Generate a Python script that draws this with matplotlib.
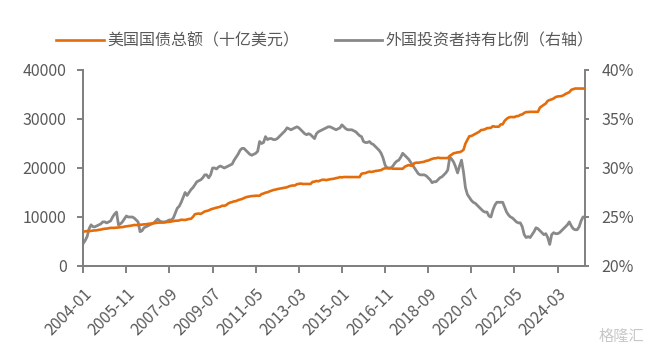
import matplotlib

matplotlib.use("Agg")
import matplotlib.pyplot as plt
from matplotlib.ticker import FuncFormatter, MultipleLocator
import pandas as pd

plt.rcParams["font.family"] = ["Noto Sans CJK SC", "DejaVu Sans"]

# 月度数据：2004-01 至 2025-05
months = pd.date_range("2004-01-01", periods=257, freq="MS")

# 美国国债总额（十亿美元）
debt = [
    7000, 7060, 7130, 7140, 7160, 7230, 7260, 7290, 7380, 7430, 7530, 7600,
    7630, 7700, 7780, 7770, 7780, 7840, 7850, 7920, 7930, 8030, 8090, 8170,
    8200, 8270, 8370, 8350, 8360, 8420, 8440, 8500, 8510, 8590, 8630, 8680,
    8710, 8770, 8850, 8850, 8860, 8870, 8930, 8990, 9010, 9080, 9140, 9230,
    9240, 9300, 9440, 9410, 9390, 9490, 9590, 9640, 10030, 10570, 10660, 10700,
    10630, 10880, 11130, 11240, 11330, 11550, 11670, 11780, 11910, 11990, 12110, 12310,
    12280, 12440, 12770, 12950, 13050, 13200, 13240, 13450, 13560, 13670, 13860, 14030,
    14130, 14200, 14270, 14290, 14340, 14340, 14340, 14680, 14790, 14970, 15040, 15220,
    15360, 15500, 15580, 15690, 15770, 15860, 15930, 16020, 16070, 16260, 16370, 16430,
    16430, 16690, 16770, 16830, 16740, 16740, 16740, 16740, 16740, 17160, 17220, 17350,
    17290, 17460, 17600, 17600, 17520, 17630, 17690, 17750, 17820, 17940, 18000, 18140,
    18080, 18160, 18150, 18150, 18150, 18150, 18150, 18150, 18150, 18150, 18830, 18920,
    18960, 19130, 19260, 19190, 19270, 19380, 19430, 19510, 19570, 19810, 19950, 19980,
    19940, 19960, 19850, 19850, 19850, 19840, 19840, 19840, 20240, 20440, 20590, 20490,
    20490, 21000, 21090, 21070, 21150, 21200, 21280, 21460, 21520, 21700, 21850, 21970,
    21980, 22110, 22030, 22030, 22030, 22030, 22020, 22470, 22720, 23010, 23080, 23200,
    23220, 23410, 23690, 24970, 25750, 26480, 26520, 26730, 26950, 27170, 27390, 27750,
    27790, 27900, 28130, 28170, 28200, 28530, 28430, 28430, 28430, 28900, 28910, 29620,
    30010, 30290, 30400, 30390, 30380, 30570, 30600, 30850, 30930, 31240, 31410, 31420,
    31460, 31460, 31460, 31460, 31460, 32330, 32610, 32910, 33170, 33700, 33880, 34000,
    34190, 34470, 34590, 34620, 34670, 34830, 35100, 35270, 35460, 35950, 36090, 36220,
    36220, 36210, 36210, 36210, 36210,
]

# 外国投资者持有比例（%）
foreign_share = [
    22.3, 22.6, 23.0, 23.8, 24.2, 24.0, 24.0, 24.1, 24.2, 24.3, 24.5, 24.5,
    24.4, 24.5, 24.6, 25.0, 25.3, 25.5, 24.2, 24.3, 24.5, 24.8, 25.1, 25.0,
    25.0, 25.0, 24.9, 24.7, 24.5, 23.5, 23.6, 23.9, 24.0, 24.1, 24.2, 24.3,
    24.4, 24.6, 24.8, 24.6, 24.5, 24.5, 24.5, 24.6, 24.7, 24.7, 24.9, 25.4,
    25.9, 26.1, 26.5, 27.0, 27.5, 27.2, 27.5, 27.8, 28.0, 28.3, 28.6, 28.7,
    28.8, 29.0, 29.3, 29.3, 29.0, 29.3, 30.0, 30.0, 29.9, 30.1, 30.2, 30.1,
    30.0, 30.1, 30.2, 30.3, 30.4, 30.8, 31.1, 31.4, 31.8, 32.0, 32.0, 31.8,
    31.6, 31.4, 31.3, 31.4, 31.5, 31.7, 32.7, 32.5, 32.6, 33.2, 32.9, 33.0,
    33.0, 32.9, 32.9, 33.0, 33.2, 33.4, 33.6, 33.8, 34.1, 34.0, 33.9, 34.0,
    34.1, 34.2, 34.1, 33.9, 33.7, 33.5, 33.4, 33.5, 33.4, 33.2, 33.0, 33.5,
    33.7, 33.8, 33.9, 34.0, 34.1, 34.2, 34.2, 34.1, 34.0, 33.9, 34.0, 34.1,
    34.4, 34.2, 34.0, 33.9, 33.9, 33.9, 33.8, 33.7, 33.5, 33.3, 33.2, 32.7,
    32.6, 32.6, 32.7, 32.5, 32.4, 32.2, 32.0, 31.8, 31.5, 31.0, 30.3, 30.0,
    30.0, 30.0, 30.2, 30.5, 30.7, 30.8, 31.1, 31.5, 31.3, 31.1, 30.9, 30.6,
    30.3, 30.0, 29.7, 29.4, 29.3, 29.3, 29.3, 29.2, 29.0, 28.8, 28.5, 28.6,
    28.6, 28.8, 29.0, 29.1, 29.3, 29.5, 29.8, 31.1, 30.9, 30.6, 30.1, 29.5,
    30.2, 30.8, 29.6, 28.0, 27.3, 27.0, 26.7, 26.5, 26.4, 26.2, 26.0, 25.8,
    25.6, 25.5, 25.5, 25.1, 25.0, 25.7, 26.2, 26.5, 26.5, 26.5, 26.5, 26.0,
    25.5, 25.2, 25.0, 24.9, 24.7, 24.5, 24.4, 24.4, 24.0, 23.2, 22.9, 23.0,
    22.9, 23.2, 23.5, 23.9, 23.8, 23.6, 23.4, 23.2, 23.3, 22.9, 22.2, 23.2,
    23.4, 23.3, 23.3, 23.4, 23.6, 23.8, 24.0, 24.2, 24.5, 24.1, 23.8, 23.7,
    23.7, 24.0, 24.6, 25.0, 25.0,
]

ORANGE = "#E46C0A"
GREY = "#898989"
TEXT = "#595959"
AXIS = "#808080"

x = list(range(len(months)))
labels = months.strftime("%Y-%m")
tick_pos = x[::22]

fig = plt.figure(figsize=(6.5, 3.54), dpi=100)
ax = fig.add_axes([0.128, 0.2486, 0.772, 0.5537])
ax2 = ax.twinx()

l1, = ax.plot(x, debt, color=ORANGE, lw=1.9, label="美国国债总额（十亿美元）", zorder=3)
l2, = ax2.plot(x, foreign_share, color=GREY, lw=2.0, label="外国投资者持有比例（右轴）")
ax.set_zorder(ax2.get_zorder() + 1)
ax.patch.set_visible(False)

ax.set_xlim(0, 256)
ax.set_ylim(0, 40000)
ax.yaxis.set_major_locator(MultipleLocator(10000))
ax2.set_ylim(20, 40)
ax2.yaxis.set_major_locator(MultipleLocator(5))
ax2.yaxis.set_major_formatter(FuncFormatter(lambda v, _: f"{v:.0f}%"))

ax.set_xticks(tick_pos)
ax.set_xticklabels([labels[i] for i in tick_pos], rotation=45, ha="right",
                   rotation_mode="anchor")

for a in (ax, ax2):
    for s in a.spines.values():
        s.set_color(AXIS)
        s.set_linewidth(1.4)
    a.spines["top"].set_visible(False)
    a.tick_params(colors=AXIS, labelcolor=TEXT, labelsize=11.5, width=1.4, length=4)
ax.spines["right"].set_visible(False)
ax.tick_params(axis="y", pad=8)
ax.tick_params(axis="x", length=5, pad=9)
ax2.tick_params(axis="y", length=3, pad=9)

fig.legend(handles=[l1, l2], loc="upper center", bbox_to_anchor=(0.5, 0.948), ncol=2,
           frameon=False, fontsize=11.5, labelcolor=TEXT, handlelength=3.0,
           handletextpad=0.2, columnspacing=2.2)

fig.text(0.992, 0.025, "格隆汇", color="#c8c8c8", fontsize=11, ha="right", va="bottom")

fig.savefig("out.png", dpi=100)
